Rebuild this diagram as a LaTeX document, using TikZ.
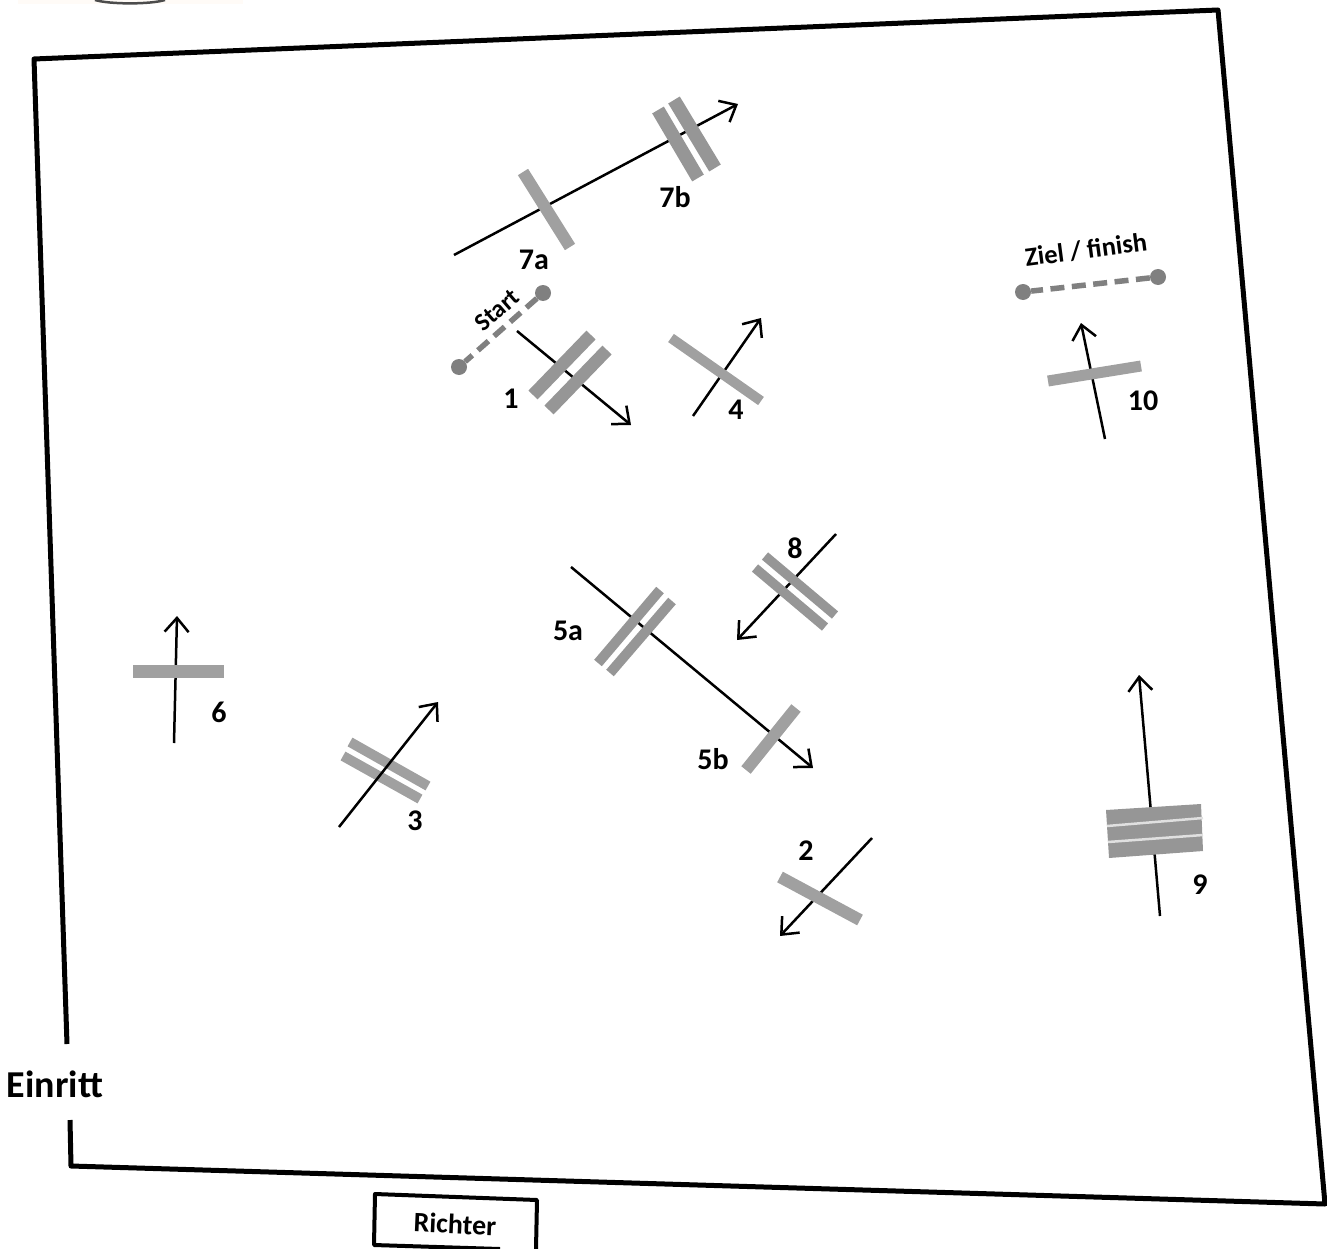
\documentclass[tikz,border=0pt]{standalone}
\usepackage{fontspec}
\setmainfont{Carlito}
\usetikzlibrary{arrows.meta}
\definecolor{barlight}{HTML}{A0A0A0}
\definecolor{bardark}{HTML}{969696}
\definecolor{markgray}{HTML}{808080}
\tikzset{
  course/.style={draw=black,line width=2.5pt,-{Straight Barb[length=14pt,width=24pt,line width=2.5pt]}},
  fence/.style={draw=barlight,line width=12pt},
  fencedk/.style={draw=bardark,line width=12pt},
  dot/.style={circle,fill=markgray,inner sep=0pt,minimum size=16pt},
  gateline/.style={draw=markgray,line width=5.5pt,dash pattern=on 14pt off 7.5pt},
  lab/.style={font=\bfseries\fontsize{30}{34}\selectfont,inner sep=0pt},
  smalllab/.style={font=\bfseries\fontsize{26.5}{30}\selectfont,inner sep=0pt},
  border/.style={draw=black,line width=5pt,line join=round},
}
\begin{document}
\begin{tikzpicture}[x=1pt,y=-1pt]
\useasboundingbox (0,0) rectangle (1327,1249);
% cropped logo remnant
\fill[fill=orange!3] (18,0) rectangle (243,4);
\draw[draw=black!70,line width=2.5pt] (95,0) .. controls (110,4.5) and (150,4.5) .. (165,0);
% arena
\draw[border] (67,1044) -- (34,59) -- (1218,10) -- (1325,1204) -- (71,1166) -- (70,1120);
\node[lab,font=\bfseries\fontsize{38}{42}\selectfont] (einritt) at (55,1084) {Einritt};
% judge
\draw[draw=black,line width=4pt,line join=round] (500,1249) -- (374,1245) -- (375,1194) -- (537,1200) -- (536,1249);
\node[smalllab,font=\bfseries\fontsize{28}{32}\selectfont,rotate=-2.5] (richter) at (455,1224) {Richter};
% start
\node[dot] (s1) at (543,293) {};
\node[dot] (s2) at (459,367) {};
\draw[gateline] (s1) -- (s2);
\node[smalllab,rotate=41,font=\bfseries\fontsize{25}{30}\selectfont] (start) at (497,310) {Start};
% finish
\node[dot] (z1) at (1023,292) {};
\node[dot] (z2) at (1158,277) {};
\draw[gateline] (z2) -- (z1);
\node[smalllab,rotate=7.5] (ziel) at (1086,250) {Ziel / finish};
% 1
\coordinate (a1s) at (517,331); \coordinate (a1e) at (631,425);
\draw[course] (a1s) -- (a1e);
\draw[fencedk,line width=12.7pt] (591,335) -- (533,395);
\draw[fencedk,line width=12.7pt] (607,350) -- (549,410);
\node[lab] (n1) at (511,399) {1};
% 2
\coordinate (a2s) at (872,838); \coordinate (a2e) at (780,936);
\draw[course] (a2s) -- (a2e);
\draw[fence] (780,877) -- (860,920);
\node[lab] (n2) at (806,851) {2};
% 3
\draw[draw=barlight,line width=10pt] (350,742) -- (428,786);
\draw[draw=barlight,line width=10pt] (343,756) -- (420,799);
\coordinate (a3s) at (339,827); \coordinate (a3e) at (438,702);
\draw[course] (a3s) -- (a3e);
\node[lab] (n3) at (415,821) {3};
% 4
\coordinate (a4s) at (693,416); \coordinate (a4e) at (761,318);
\draw[course] (a4s) -- (a4e);
\draw[fence,line width=10pt] (671,338) -- (761,401);
\node[lab] (n4) at (736,410) {4};
% 5
\coordinate (a5s) at (571,567); \coordinate (a5e) at (813,768);
\draw[course] (a5s) -- (a5e);
\draw[fencedk,line width=10pt] (660,590) -- (598,663);
\draw[fencedk,line width=10pt] (672,601) -- (610,673);
\draw[fence] (796,708) -- (746,770);
\node[lab] (n5a) at (568,631) {5a};
\node[lab] (n5b) at (713,759) {5b};
% 6
\coordinate (a6s) at (174,743); \coordinate (a6e) at (177,616);
\draw[course] (a6s) -- (a6e);
\draw[fence,line width=13pt] (133,671) -- (224,671);
\node[lab] (n6) at (219,712) {6};
% 7
\coordinate (a7s) at (454,255); \coordinate (a7e) at (738,104);
\draw[course] (a7s) -- (a7e);
\draw[fence] (523,172) -- (570,247);
\draw[fencedk,line width=13.5pt] (658,110) -- (698,178);
\draw[fencedk,line width=13.5pt] (674,100) -- (715,168);
\node[lab] (n7a) at (534,260) {7a};
\node[lab] (n7b) at (675,197) {7b};
% 8
\coordinate (a8s) at (836,534); \coordinate (a8e) at (737,640);
\draw[course] (a8s) -- (a8e);
\draw[fencedk,line width=9.5pt] (765,556) -- (835,615);
\draw[fencedk,line width=9.5pt] (755,568) -- (825,627);
\node[lab] (n8) at (795,548) {8};
% 9
\coordinate (a9s) at (1160,916); \coordinate (a9e) at (1139,675);
\draw[course] (a9s) -- (a9e);
\fill[bardark] (1106,810) -- (1201,804) -- (1203,851) -- (1109,858) -- cycle;
\draw[draw=black!12,line width=2.5pt] (1107,826) -- (1203,818);
\draw[draw=black!12,line width=2.5pt] (1108,842) -- (1203,835);
\node[lab] (n9) at (1200,885) {9};
% 10
\coordinate (a10s) at (1105,439); \coordinate (a10e) at (1081,323);
\draw[course] (a10s) -- (a10e);
\draw[fence,line width=11pt] (1048,381) -- (1141,366);
\node[lab] (n10) at (1143,401) {10};
\end{tikzpicture}
\end{document}
